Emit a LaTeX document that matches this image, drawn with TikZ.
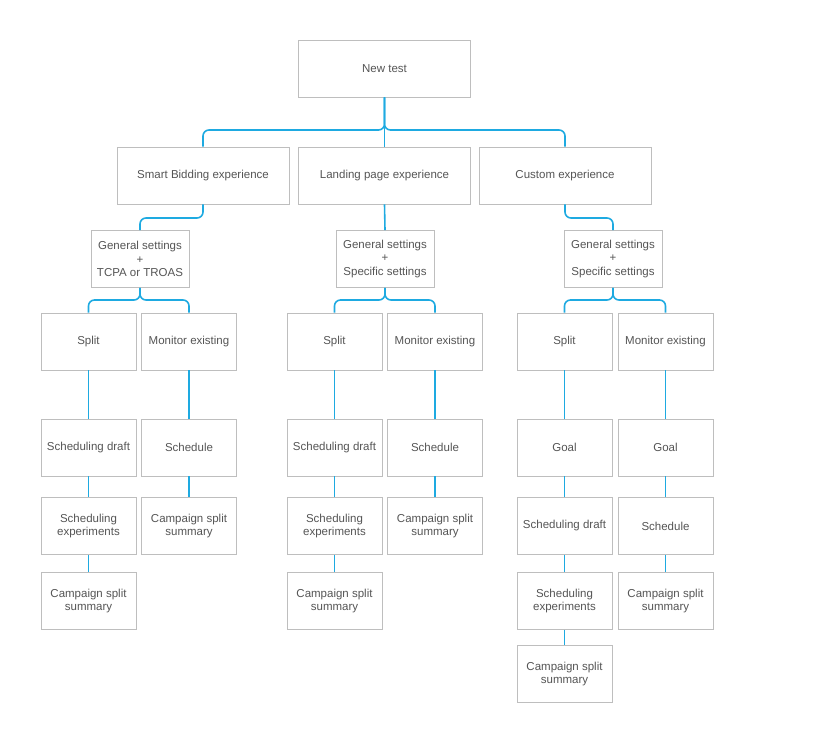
\documentclass[tikz,border=0pt]{standalone}
\usepackage{fontspec}
\setmainfont{Liberation Sans}
\definecolor{linkblue}{RGB}{30,170,225}
\definecolor{boxgray}{RGB}{190,190,190}
\definecolor{txtgray}{RGB}{85,85,85}
\tikzset{
  box/.style={draw=boxgray,line width=0.8pt,fill=white,minimum height=57pt,align=center,
    text=txtgray,font=\fontsize{11.5}{13.5}\selectfont,inner sep=2pt},
  wide/.style={box,minimum width=172pt},
  mid/.style={box,minimum width=98pt},
  leaf/.style={box,minimum width=95pt},
  link/.style={draw=linkblue,line width=1.6pt,rounded corners=6pt}
}
\begin{document}
\begin{tikzpicture}[x=1pt,y=-1pt]
\useasboundingbox (0,0) rectangle (826,751);
% top
\node[wide] (new) at (384.5,68.5) {New test};
\node[wide] (sb) at (203,175.5) {Smart Bidding experience};
\node[wide] (lp) at (384.5,175.5) {Landing page experience};
\node[wide] (ce) at (565,175.5) {Custom experience};
% general settings
\node[mid] (gs1) at (140,259) {General settings\\+\\TCPA or TROAS};
\node[mid] (gs2) at (385,259) {General settings\\+\\Specific settings};
\node[mid] (gs3) at (613,259) {General settings\\+\\Specific settings};
% smart bidding branch
\node[leaf] (sp1) at (88.5,341.5) {Split};
\node[leaf] (mo1) at (189,341.5) {Monitor existing};
\node[leaf] (sd1) at (88.5,447.5) {Scheduling draft};
\node[leaf] (sc1) at (189,447.5) {Schedule};
\node[leaf] (se1) at (88.5,526) {Scheduling\\experiments};
\node[leaf] (cs1) at (189,526) {Campaign split\\summary};
\node[leaf] (cx1) at (88.5,601) {Campaign split\\summary};
% landing page branch
\node[leaf] (sp2) at (334.5,341.5) {Split};
\node[leaf] (mo2) at (435,341.5) {Monitor existing};
\node[leaf] (sd2) at (334.5,447.5) {Scheduling draft};
\node[leaf] (sc2) at (435,447.5) {Schedule};
\node[leaf] (se2) at (334.5,526) {Scheduling\\experiments};
\node[leaf] (cs2) at (435,526) {Campaign split\\summary};
\node[leaf] (cx2) at (334.5,601) {Campaign split\\summary};
% custom branch
\node[leaf] (sp3) at (564.5,341.5) {Split};
\node[leaf] (mo3) at (665.5,341.5) {Monitor existing};
\node[leaf] (go3) at (564.5,447.5) {Goal};
\node[leaf] (gm3) at (665.5,447.5) {Goal};
\node[leaf] (sd3) at (564.5,526) {Scheduling draft};
\node[leaf] (sc3) at (665.5,526) {Schedule};
\node[leaf] (se3) at (564.5,601) {Scheduling\\experiments};
\node[leaf] (cs3) at (665.5,601) {Campaign split\\summary};
\node[leaf] (cx3) at (564.5,674) {Campaign split\\summary};
% connectors
\begin{scope}[on background layer/.style={}]
\path[link] (new.south) |- (sb.north |- 0,130) -- (sb.north);
\path[link] (new.south) |- (ce.north |- 0,130) -- (ce.north);
\path[link] (new.south) -- (lp.north);
\path[link] (sb.south) |- (gs1.north |- 0,218) -- (gs1.north);
\path[link] (lp.south) -- (gs2.north);
\path[link] (ce.south) |- (gs3.north |- 0,218) -- (gs3.north);
\foreach \g/\s/\m in {gs1/sp1/mo1,gs2/sp2/mo2,gs3/sp3/mo3}{
  \path[link] (\g.south) |- (\s.north |- 0,300) -- (\s.north);
  \path[link] (\g.south) |- (\m.north |- 0,300) -- (\m.north);
}
\foreach \a/\b in {sp1/sd1,sd1/se1,se1/cx1,mo1/sc1,sc1/cs1,
  sp2/sd2,sd2/se2,se2/cx2,mo2/sc2,sc2/cs2,
  sp3/go3,go3/sd3,sd3/se3,se3/cx3,mo3/gm3,gm3/sc3,sc3/cs3}{
  \path[link] (\a.south) -- (\b.north);
}
\end{scope}
\end{tikzpicture}
\end{document}
